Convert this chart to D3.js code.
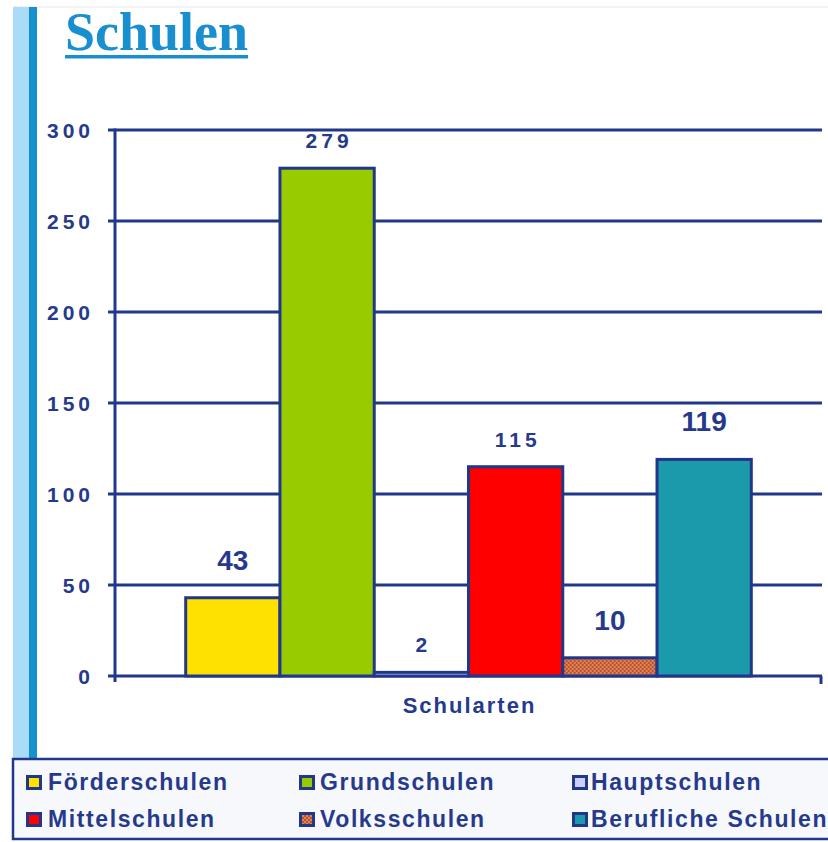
<!DOCTYPE html>
<html>
<head>
<meta charset="utf-8">
<script src="https://cdn.jsdelivr.net/npm/d3@7"></script>
<style>
  html, body { margin: 0; padding: 0; background: #ffffff; }
  svg { display: block; }
</style>
</head>
<body>
<svg id="chart" width="828" height="842"></svg>
<script>
const category = "Schularten";
const series = ["Förderschulen", "Grundschulen", "Hauptschulen", "Mittelschulen", "Volksschulen", "Berufliche Schulen"];
const values = [43, 279, 2, 115, 10, 119];
const colors = ["#ffe100", "#99cc00", "#ccccff", "#ff0000", "url(#volks)", "#1a9aaa"];
const labelBig = [true, false, false, false, true, true];
const yTicks = [0, 50, 100, 150, 200, 250, 300];

const navy = "#21388a";
const textNavy = "#263a8c";
const svg = d3.select("#chart");

// pattern for Volksschulen
const defs = svg.append("defs");
const pat = defs.append("pattern").attr("id", "volks").attr("patternUnits", "userSpaceOnUse")
  .attr("width", 4).attr("height", 4);
pat.append("rect").attr("width", 4).attr("height", 4).attr("fill", "#e0864a");
pat.append("rect").attr("width", 2).attr("height", 2).attr("fill", "#b8503a");
pat.append("rect").attr("x", 2).attr("y", 2).attr("width", 2).attr("height", 2).attr("fill", "#b8503a");

// top faint line and left strips
svg.append("line").attr("x1", 13).attr("x2", 828).attr("y1", 7).attr("y2", 7)
  .attr("stroke", "#e6e6e6").attr("stroke-width", 1);
svg.append("rect").attr("x", 13).attr("y", 7).attr("width", 16).attr("height", 752).attr("fill", "#aadcf8");
svg.append("rect").attr("x", 29).attr("y", 7).attr("width", 8).attr("height", 752).attr("fill", "#1790d0");

// title
const title = svg.append("text").attr("x", 65).attr("y", 50)
  .attr("font-family", "'Liberation Serif', 'DejaVu Serif', serif")
  .attr("font-weight", "bold").attr("font-size", 54).attr("fill", "#1a8fd0")
  .text("Schulen");
const tb = title.node().getBBox();
svg.append("rect").attr("x", tb.x).attr("y", 55).attr("width", tb.width).attr("height", 3.5).attr("fill", "#1a8fd0");

// scales
const x0 = d3.scaleBand().domain([category]).range([115, 822]).paddingInner(0).paddingOuter(0.125);
const x1 = d3.scaleBand().domain(series).range([0, x0.bandwidth()]).padding(0);
const y = d3.scaleLinear().domain([0, 300]).range([676, 130]);

// gridlines + axis
const grid = svg.append("g");
grid.selectAll("line").data(yTicks).join("line")
  .attr("x1", 108).attr("x2", 822)
  .attr("y1", d => y(d)).attr("y2", d => y(d))
  .attr("stroke", navy).attr("stroke-width", 3);
svg.append("line").attr("x1", 115).attr("x2", 115).attr("y1", y(300) - 1.5).attr("y2", y(0) + 6)
  .attr("stroke", navy).attr("stroke-width", 3);
svg.append("line").attr("x1", 821).attr("x2", 821).attr("y1", y(0)).attr("y2", y(0) + 8)
  .attr("stroke", navy).attr("stroke-width", 3);

svg.append("g").selectAll("text").data(yTicks).join("text")
  .attr("x", 94).attr("y", d => y(d) + 8)
  .attr("text-anchor", "end")
  .attr("font-family", "'Liberation Sans', Arial, sans-serif")
  .attr("font-weight", "bold").attr("font-size", 21).attr("letter-spacing", 4)
  .attr("fill", textNavy)
  .text(d => d);

// bars
const g = svg.append("g").attr("transform", `translate(${x0(category)},0)`);
const data = series.map((s, i) => ({ s, v: values[i], c: colors[i], big: labelBig[i] }));
g.selectAll("rect").data(data).join("rect")
  .attr("x", d => x1(d.s))
  .attr("y", d => y(d.v))
  .attr("width", x1.bandwidth())
  .attr("height", d => y(0) - y(d.v))
  .attr("fill", d => d.c)
  .attr("stroke", navy).attr("stroke-width", 3);

g.selectAll("text").data(data).join("text")
  .attr("x", d => x1(d.s) + x1.bandwidth() / 2 + (d.big ? 0 : 2))
  .attr("y", d => y(d.v) - (d.big ? 28 : 20))
  .attr("text-anchor", "middle")
  .attr("font-family", "'Liberation Sans', Arial, sans-serif")
  .attr("font-weight", "bold")
  .attr("font-size", d => d.big ? 28 : 21)
  .attr("letter-spacing", d => d.big ? 0 : 4)
  .attr("fill", textNavy)
  .text(d => d.v);

// x axis label
svg.append("text").attr("x", x0(category) + x0.bandwidth() / 2 + 1).attr("y", 713)
  .attr("text-anchor", "middle")
  .attr("font-family", "'Liberation Sans', Arial, sans-serif")
  .attr("font-weight", "bold").attr("font-size", 22).attr("letter-spacing", 2)
  .attr("fill", textNavy).text(category);

// legend
svg.append("rect").attr("x", 13).attr("y", 759).attr("width", 830).attr("height", 80)
  .attr("fill", "#f7f8fc").attr("stroke", navy).attr("stroke-width", 2.5);
const legX = [26, 299, 572];
const legTX = [48, 320, 591];
const legY = [790, 827];
const leg = svg.append("g").selectAll("g").data(data).join("g")
  .attr("transform", (d, i) => `translate(0,${legY[Math.floor(i / 3)]})`);
leg.append("rect").attr("x", (d, i) => legX[i % 3] + 1.5).attr("y", -13.5).attr("width", 13).attr("height", 12)
  .attr("fill", d => d.c).attr("stroke", navy).attr("stroke-width", 3);
leg.append("text").attr("x", (d, i) => legTX[i % 3]).attr("y", 0)
  .attr("font-family", "'Liberation Sans', Arial, sans-serif")
  .attr("font-weight", "bold").attr("font-size", 23).attr("letter-spacing", 1.6)
  .attr("fill", textNavy).text(d => d.s);
</script>
</body>
</html>
